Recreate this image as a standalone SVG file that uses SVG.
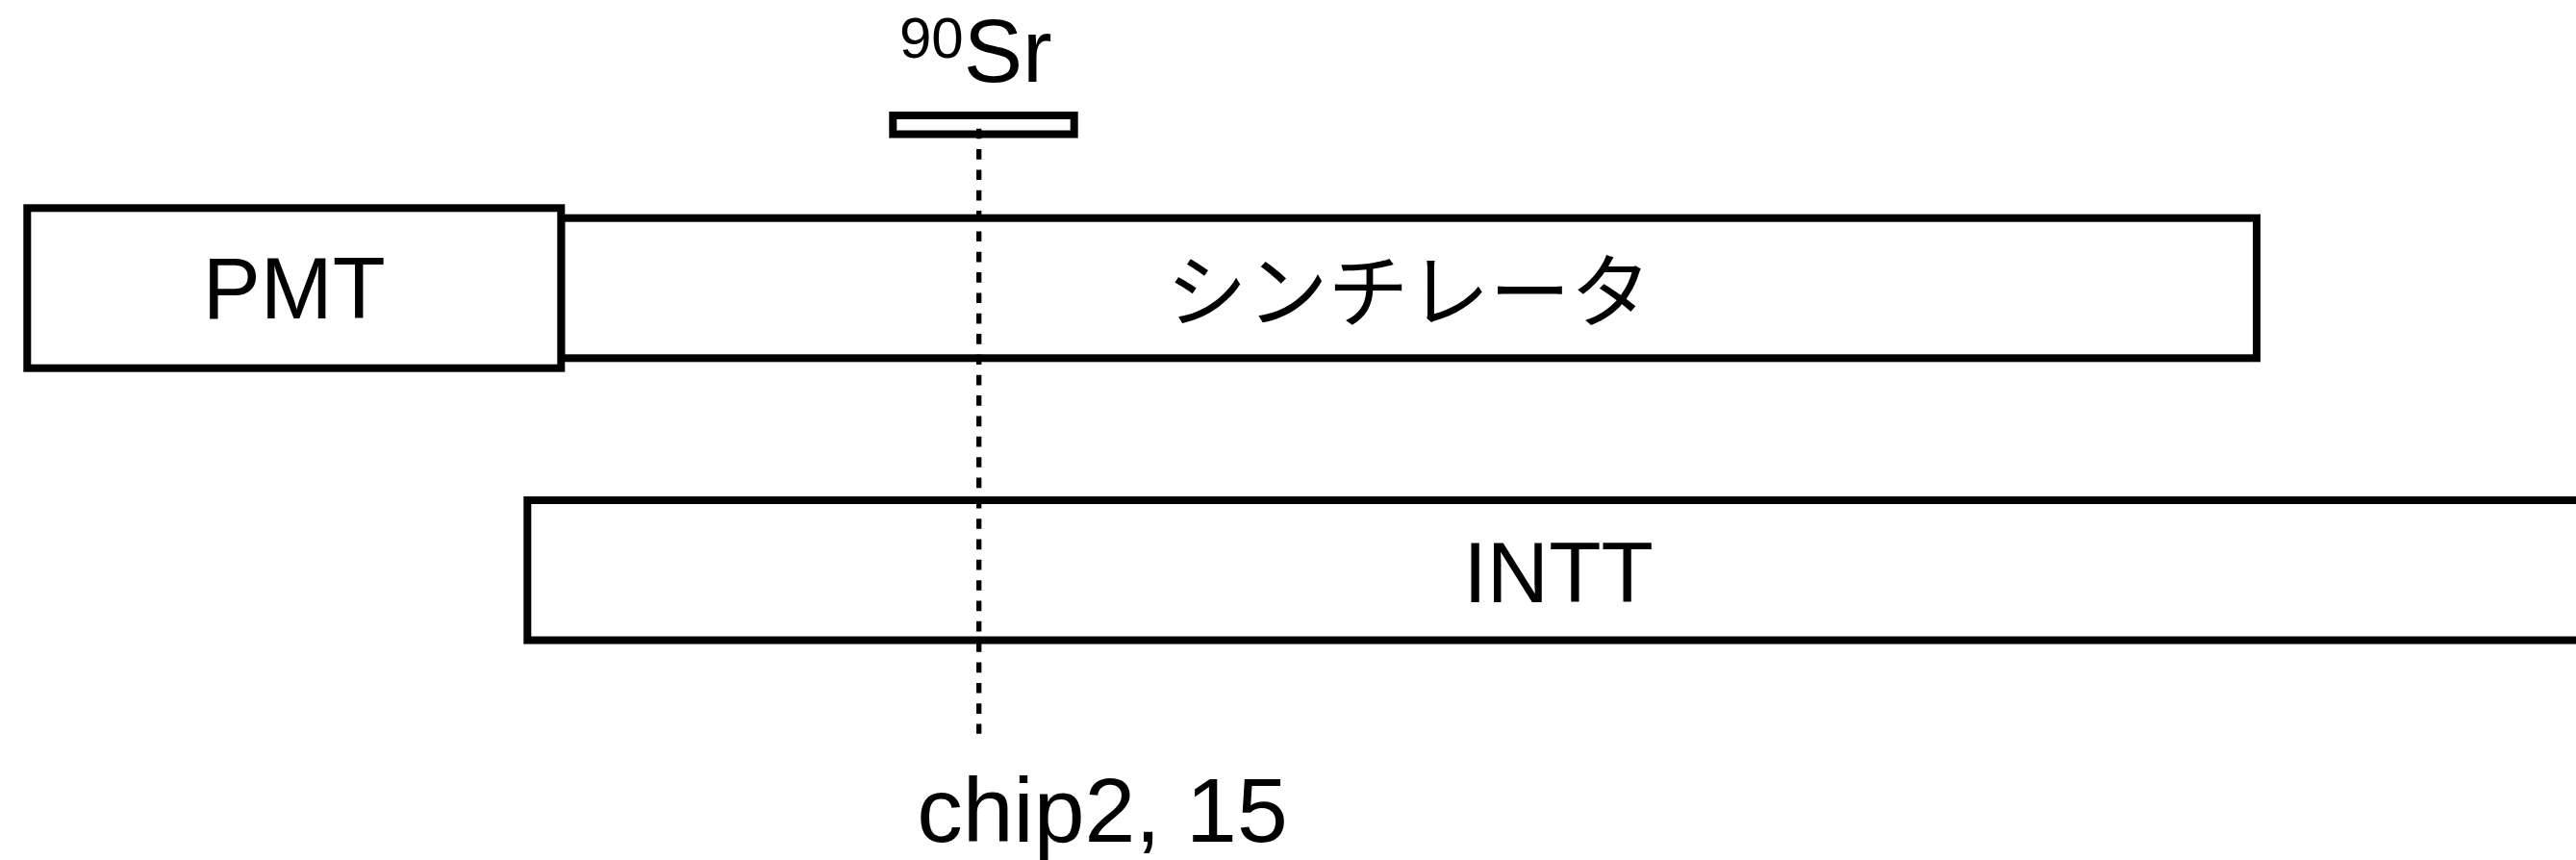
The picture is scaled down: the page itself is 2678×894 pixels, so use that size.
<svg xmlns="http://www.w3.org/2000/svg" width="2678" height="894" viewBox="0 0 2678 894">
<style>
.box{fill:#fff;stroke:#000;stroke-width:8}
.lbl{font-family:"Liberation Sans",Arial,sans-serif;fill:#000}
.jp{font-family:"Noto Sans CJK JP","Noto Sans CJK SC",sans-serif;fill:#000}
</style>
<rect width="2678" height="894" fill="#fff"/>
<g id="intt">
<rect class="box" x="548.3" y="520" width="2144" height="145.5"/>
<text class="lbl" x="1620" y="626" font-size="89" text-anchor="middle">INTT</text>
</g>
<g id="scintillator">
<rect class="box" x="583.3" y="226.7" width="1762.7" height="145.6"/>
<text class="jp" x="1464.6" y="334" font-size="84" text-anchor="middle">シンチレータ</text>
</g>
<g id="pmt">
<rect class="box" x="28.3" y="216.3" width="555" height="166.4"/>
<text class="lbl" x="305.8" y="331" font-size="90" text-anchor="middle">PMT</text>
</g>
<g id="source">
<rect class="box" x="928.3" y="120" width="188.4" height="19.5"/>
<text class="lbl" x="935" y="85" font-size="92"><tspan font-size="60" dy="-25">90</tspan><tspan dy="25">Sr</tspan></text>
</g>
<g id="connectors">
<line x1="1017.7" y1="133.7" x2="1017.7" y2="762.7" stroke="#000" stroke-width="5.3" stroke-dasharray="10.67 10.67"/>
</g>
<g id="label">
<text class="lbl" x="1146" y="875" font-size="95" text-anchor="middle">chip2, 15</text>
</g>
</svg>
